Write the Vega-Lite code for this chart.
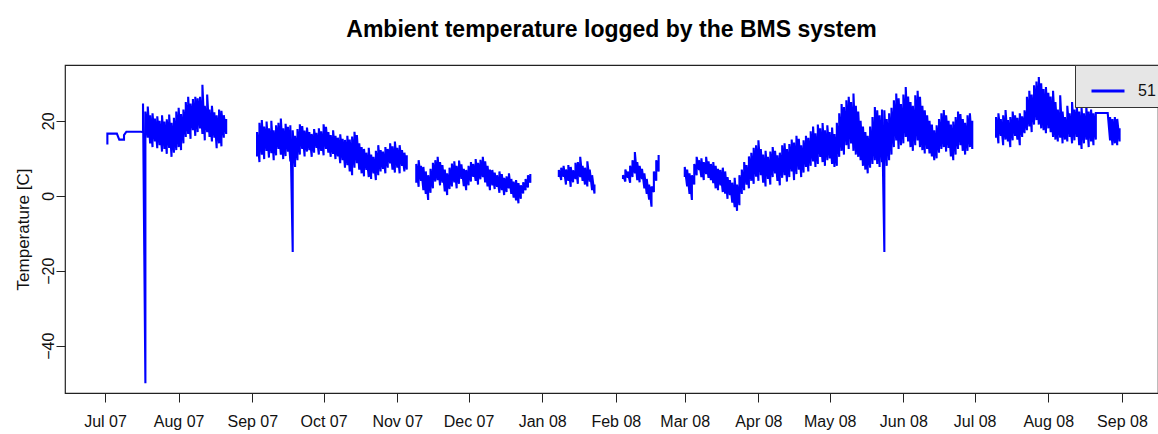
{
"$schema":"https://vega.github.io/schema/vega-lite/v6.json",
"width":1093,"height":328,
"autosize":{"type":"none"},
"padding":{"left":65,"top":65,"right":0,"bottom":41},
"background":"#ffffff",
"title":{"text":"Ambient temperature logged by the BMS system","font":"Liberation Sans","fontSize":23,"fontWeight":"bold","color":"#000000","anchor":"middle","offset":23},
"config":{"view":{"stroke":"#222222","strokeWidth":1.2},"font":"Liberation Sans"},
"data":{"values":[
{"d":"2007-07-02","lo":13.7,"hi":16.6},{"d":"2007-07-06","lo":16.6,"hi":16.6},{"d":"2007-07-07","lo":15.0,"hi":15.0},{"d":"2007-07-09","lo":15.0,"hi":16.2},{"d":"2007-07-10","lo":17.1,"hi":17.1},{"d":"2007-07-16","lo":17.1,"hi":17.1},
{"d":"2007-07-17","lo":17.0,"hi":24.6},{"d":"2007-07-18","lo":-50,"hi":22.5},{"d":"2007-07-19","lo":15.5,"hi":23.8},{"d":"2007-07-20","lo":14.0,"hi":21.5},{"d":"2007-07-21","lo":13.0,"hi":22.0},{"d":"2007-07-22","lo":14.5,"hi":20.6},{"d":"2007-07-23","lo":12.7,"hi":21.2},{"d":"2007-07-24","lo":13.5,"hi":20.0},{"d":"2007-07-25","lo":11.8,"hi":21.5},{"d":"2007-07-26","lo":12.5,"hi":19.8},{"d":"2007-07-27","lo":11.2,"hi":20.4},{"d":"2007-07-28","lo":12.8,"hi":21.7},{"d":"2007-07-29","lo":10.4,"hi":19.5},{"d":"2007-07-30","lo":11.5,"hi":20.8},{"d":"2007-07-31","lo":12.2,"hi":22.5},
{"d":"2007-08-01","lo":13.0,"hi":23.5},{"d":"2007-08-02","lo":12.2,"hi":21.8},{"d":"2007-08-03","lo":14.0,"hi":23.0},{"d":"2007-08-04","lo":15.7,"hi":25.0},{"d":"2007-08-05","lo":16.5,"hi":26.4},{"d":"2007-08-06","lo":15.2,"hi":24.6},{"d":"2007-08-07","lo":17.5,"hi":25.8},{"d":"2007-08-08","lo":16.0,"hi":26.4},{"d":"2007-08-09","lo":17.0,"hi":26.0},{"d":"2007-08-10","lo":18.0,"hi":26.4},{"d":"2007-08-11","lo":16.5,"hi":29.6},{"d":"2007-08-12","lo":14.8,"hi":24.0},{"d":"2007-08-13","lo":17.0,"hi":27.0},{"d":"2007-08-14","lo":15.7,"hi":23.0},{"d":"2007-08-15","lo":14.5,"hi":24.0},{"d":"2007-08-16","lo":15.5,"hi":22.3},{"d":"2007-08-17","lo":12.7,"hi":21.5},{"d":"2007-08-18","lo":14.0,"hi":23.0},{"d":"2007-08-19","lo":13.2,"hi":22.7},{"d":"2007-08-20","lo":15.5,"hi":21.5},{"d":"2007-08-21","lo":16.5,"hi":20.5},
{"d":"2007-08-27","lo":null,"hi":null},
{"d":"2007-09-03","lo":10.5,"hi":17.0},{"d":"2007-09-04","lo":9.0,"hi":19.5},{"d":"2007-09-05","lo":11.0,"hi":20.2},{"d":"2007-09-06","lo":9.8,"hi":18.5},{"d":"2007-09-07","lo":12.0,"hi":19.8},{"d":"2007-09-08","lo":10.2,"hi":18.0},{"d":"2007-09-09","lo":11.4,"hi":20.0},{"d":"2007-09-10","lo":9.5,"hi":17.5},{"d":"2007-09-11","lo":10.8,"hi":18.8},{"d":"2007-09-12","lo":12.5,"hi":19.5},{"d":"2007-09-13","lo":11.0,"hi":20.6},{"d":"2007-09-14","lo":9.8,"hi":18.0},{"d":"2007-09-15","lo":10.6,"hi":19.2},{"d":"2007-09-16","lo":11.8,"hi":18.4},{"d":"2007-09-17","lo":9.2,"hi":18.8},{"d":"2007-09-18","lo":-15,"hi":17.5},{"d":"2007-09-19","lo":7.7,"hi":16.0},{"d":"2007-09-20","lo":9.5,"hi":17.8},{"d":"2007-09-21","lo":11.0,"hi":19.1},{"d":"2007-09-22","lo":12.5,"hi":18.6},{"d":"2007-09-23","lo":10.5,"hi":17.4},{"d":"2007-09-24","lo":11.8,"hi":18.2},{"d":"2007-09-25","lo":12.2,"hi":17.0},{"d":"2007-09-26","lo":10.4,"hi":16.5},{"d":"2007-09-27","lo":11.5,"hi":17.8},{"d":"2007-09-28","lo":12.8,"hi":16.8},{"d":"2007-09-29","lo":11.0,"hi":18.0},{"d":"2007-09-30","lo":12.0,"hi":17.2},
{"d":"2007-10-01","lo":10.8,"hi":19.1},{"d":"2007-10-02","lo":12.5,"hi":18.4},{"d":"2007-10-03","lo":11.5,"hi":17.0},{"d":"2007-10-04","lo":10.4,"hi":16.2},{"d":"2007-10-05","lo":11.2,"hi":17.5},{"d":"2007-10-06","lo":9.8,"hi":16.0},{"d":"2007-10-07","lo":10.5,"hi":15.5},{"d":"2007-10-08","lo":8.7,"hi":16.4},{"d":"2007-10-09","lo":9.5,"hi":15.2},{"d":"2007-10-10","lo":7.5,"hi":14.9},{"d":"2007-10-11","lo":8.2,"hi":16.0},{"d":"2007-10-12","lo":6.5,"hi":15.0},{"d":"2007-10-13","lo":5.5,"hi":15.8},{"d":"2007-10-14","lo":7.5,"hi":17.1},{"d":"2007-10-15","lo":8.7,"hi":16.2},{"d":"2007-10-16","lo":7.0,"hi":14.0},{"d":"2007-10-17","lo":6.0,"hi":13.0},{"d":"2007-10-18","lo":5.2,"hi":12.5},{"d":"2007-10-19","lo":6.9,"hi":11.5},{"d":"2007-10-20","lo":5.0,"hi":12.8},{"d":"2007-10-21","lo":4.5,"hi":11.0},{"d":"2007-10-22","lo":6.0,"hi":10.4},{"d":"2007-10-23","lo":4.2,"hi":12.0},{"d":"2007-10-24","lo":5.5,"hi":13.5},{"d":"2007-10-25","lo":6.5,"hi":12.2},{"d":"2007-10-26","lo":7.2,"hi":11.8},{"d":"2007-10-27","lo":6.0,"hi":13.0},{"d":"2007-10-28","lo":7.5,"hi":12.5},{"d":"2007-10-29","lo":8.7,"hi":14.0},{"d":"2007-10-30","lo":7.0,"hi":13.2},{"d":"2007-10-31","lo":6.2,"hi":14.5},
{"d":"2007-11-01","lo":7.5,"hi":12.8},{"d":"2007-11-02","lo":6.0,"hi":13.5},{"d":"2007-11-03","lo":8.0,"hi":12.2},{"d":"2007-11-04","lo":6.5,"hi":11.5},{"d":"2007-11-05","lo":7.0,"hi":10.8},
{"d":"2007-11-07","lo":null,"hi":null},
{"d":"2007-11-09","lo":3.5,"hi":8.5},{"d":"2007-11-10","lo":2.4,"hi":9.5},{"d":"2007-11-11","lo":4.0,"hi":8.0},{"d":"2007-11-12","lo":1.5,"hi":7.7},{"d":"2007-11-13","lo":0.5,"hi":6.5},{"d":"2007-11-14","lo":-1.1,"hi":5.5},{"d":"2007-11-15","lo":0.8,"hi":7.2},{"d":"2007-11-16","lo":2.0,"hi":8.8},{"d":"2007-11-17","lo":3.8,"hi":9.5},{"d":"2007-11-18","lo":4.2,"hi":10.4},{"d":"2007-11-19","lo":2.8,"hi":9.0},{"d":"2007-11-20","lo":3.5,"hi":8.2},{"d":"2007-11-21","lo":1.2,"hi":7.0},{"d":"2007-11-22","lo":0.2,"hi":6.0},{"d":"2007-11-23","lo":1.8,"hi":7.5},{"d":"2007-11-24","lo":2.5,"hi":8.6},{"d":"2007-11-25","lo":3.6,"hi":9.2},{"d":"2007-11-26","lo":2.0,"hi":8.0},{"d":"2007-11-27","lo":3.2,"hi":9.4},{"d":"2007-11-28","lo":4.5,"hi":8.4},{"d":"2007-11-29","lo":2.6,"hi":7.2},{"d":"2007-11-30","lo":1.5,"hi":6.9},
{"d":"2007-12-01","lo":2.8,"hi":8.0},{"d":"2007-12-02","lo":3.8,"hi":9.0},{"d":"2007-12-03","lo":5.1,"hi":8.5},{"d":"2007-12-04","lo":4.0,"hi":9.8},{"d":"2007-12-05","lo":3.0,"hi":8.8},{"d":"2007-12-06","lo":4.4,"hi":9.6},{"d":"2007-12-07","lo":5.0,"hi":10.4},{"d":"2007-12-08","lo":3.6,"hi":9.2},{"d":"2007-12-09","lo":2.5,"hi":8.0},{"d":"2007-12-10","lo":1.5,"hi":7.0},{"d":"2007-12-11","lo":2.8,"hi":6.9},{"d":"2007-12-12","lo":1.8,"hi":6.2},{"d":"2007-12-13","lo":2.4,"hi":5.5},{"d":"2007-12-14","lo":0.8,"hi":6.5},{"d":"2007-12-15","lo":1.5,"hi":5.8},{"d":"2007-12-16","lo":0.2,"hi":4.8},{"d":"2007-12-17","lo":1.0,"hi":5.2},{"d":"2007-12-18","lo":2.0,"hi":6.0},{"d":"2007-12-19","lo":0.5,"hi":4.5},{"d":"2007-12-20","lo":-0.5,"hi":3.8},{"d":"2007-12-21","lo":-1.2,"hi":4.2},{"d":"2007-12-22","lo":-2.0,"hi":3.4},{"d":"2007-12-23","lo":-0.8,"hi":2.8},{"d":"2007-12-24","lo":0.6,"hi":3.6},{"d":"2007-12-25","lo":1.5,"hi":4.5},{"d":"2007-12-26","lo":2.2,"hi":5.5},{"d":"2007-12-27","lo":3.5,"hi":5.8},
{"d":"2008-01-01","lo":null,"hi":null},
{"d":"2008-01-08","lo":5.0,"hi":6.9},{"d":"2008-01-09","lo":4.2,"hi":7.5},{"d":"2008-01-10","lo":5.1,"hi":8.0},{"d":"2008-01-11","lo":3.0,"hi":7.0},{"d":"2008-01-12","lo":4.0,"hi":8.2},{"d":"2008-01-13","lo":2.4,"hi":7.7},{"d":"2008-01-14","lo":3.6,"hi":6.8},{"d":"2008-01-15","lo":4.5,"hi":8.8},{"d":"2008-01-16","lo":3.2,"hi":9.0},{"d":"2008-01-17","lo":5.0,"hi":10.4},{"d":"2008-01-18","lo":4.0,"hi":8.0},{"d":"2008-01-19","lo":3.0,"hi":7.5},{"d":"2008-01-20","lo":2.5,"hi":9.2},{"d":"2008-01-21","lo":3.8,"hi":7.0},{"d":"2008-01-22","lo":1.5,"hi":5.5},{"d":"2008-01-23","lo":0.6,"hi":3.0},
{"d":"2008-01-28","lo":null,"hi":null},
{"d":"2008-02-04","lo":4.5,"hi":5.5},{"d":"2008-02-05","lo":3.8,"hi":7.0},{"d":"2008-02-06","lo":4.8,"hi":6.5},{"d":"2008-02-07","lo":3.5,"hi":8.0},{"d":"2008-02-08","lo":5.0,"hi":9.5},{"d":"2008-02-09","lo":6.0,"hi":11.7},{"d":"2008-02-10","lo":4.2,"hi":9.0},{"d":"2008-02-11","lo":3.6,"hi":8.0},{"d":"2008-02-12","lo":4.5,"hi":7.2},{"d":"2008-02-13","lo":2.0,"hi":6.0},{"d":"2008-02-14","lo":0.5,"hi":4.5},{"d":"2008-02-15","lo":-1.0,"hi":3.0},{"d":"2008-02-16","lo":-2.9,"hi":2.5},{"d":"2008-02-17","lo":1.0,"hi":6.5},{"d":"2008-02-18","lo":4.0,"hi":9.5},{"d":"2008-02-19","lo":6.5,"hi":10.9},
{"d":"2008-02-25","lo":null,"hi":null},
{"d":"2008-03-01","lo":5.0,"hi":7.7},{"d":"2008-03-02","lo":2.5,"hi":7.0},{"d":"2008-03-03","lo":0.5,"hi":6.0},{"d":"2008-03-04","lo":-1.1,"hi":5.5},{"d":"2008-03-05","lo":3.0,"hi":8.5},{"d":"2008-03-06","lo":5.5,"hi":10.4},{"d":"2008-03-07","lo":6.9,"hi":9.5},{"d":"2008-03-08","lo":5.0,"hi":10.0},{"d":"2008-03-09","lo":4.2,"hi":9.0},{"d":"2008-03-10","lo":5.8,"hi":10.4},{"d":"2008-03-11","lo":4.8,"hi":9.2},{"d":"2008-03-12","lo":4.2,"hi":8.5},{"d":"2008-03-13","lo":3.4,"hi":9.0},{"d":"2008-03-14","lo":2.0,"hi":8.0},{"d":"2008-03-15","lo":1.5,"hi":7.2},{"d":"2008-03-16","lo":2.8,"hi":6.9},{"d":"2008-03-17","lo":1.0,"hi":7.5},{"d":"2008-03-18","lo":0.6,"hi":6.5},{"d":"2008-03-19","lo":-0.8,"hi":5.0},{"d":"2008-03-20","lo":0.2,"hi":4.2},{"d":"2008-03-21","lo":-1.8,"hi":3.5},{"d":"2008-03-22","lo":-3.0,"hi":4.8},{"d":"2008-03-23","lo":-4.0,"hi":3.0},{"d":"2008-03-24","lo":-2.5,"hi":5.5},{"d":"2008-03-25","lo":0.5,"hi":7.0},{"d":"2008-03-26","lo":1.5,"hi":9.0},{"d":"2008-03-27","lo":3.0,"hi":8.2},{"d":"2008-03-28","lo":2.0,"hi":10.5},{"d":"2008-03-29","lo":4.0,"hi":11.5},{"d":"2008-03-30","lo":3.2,"hi":12.8},{"d":"2008-03-31","lo":5.1,"hi":13.5},
{"d":"2008-04-01","lo":4.0,"hi":14.8},{"d":"2008-04-02","lo":5.5,"hi":12.5},{"d":"2008-04-03","lo":3.5,"hi":11.0},{"d":"2008-04-04","lo":2.5,"hi":12.0},{"d":"2008-04-05","lo":4.5,"hi":10.4},{"d":"2008-04-06","lo":3.0,"hi":11.8},{"d":"2008-04-07","lo":5.0,"hi":13.0},{"d":"2008-04-08","lo":6.0,"hi":12.0},{"d":"2008-04-09","lo":4.0,"hi":10.8},{"d":"2008-04-10","lo":2.8,"hi":11.5},{"d":"2008-04-11","lo":4.8,"hi":13.5},{"d":"2008-04-12","lo":5.5,"hi":14.0},{"d":"2008-04-13","lo":3.8,"hi":12.5},{"d":"2008-04-14","lo":5.0,"hi":13.8},{"d":"2008-04-15","lo":6.5,"hi":15.0},{"d":"2008-04-16","lo":4.2,"hi":14.2},{"d":"2008-04-17","lo":5.8,"hi":16.0},{"d":"2008-04-18","lo":7.0,"hi":15.2},{"d":"2008-04-19","lo":5.0,"hi":13.5},{"d":"2008-04-20","lo":6.2,"hi":14.8},{"d":"2008-04-21","lo":7.7,"hi":16.0},{"d":"2008-04-22","lo":6.5,"hi":15.5},{"d":"2008-04-23","lo":8.0,"hi":17.2},{"d":"2008-04-24","lo":9.2,"hi":18.5},{"d":"2008-04-25","lo":7.7,"hi":16.7},{"d":"2008-04-26","lo":8.5,"hi":19.0},{"d":"2008-04-27","lo":10.4,"hi":18.0},{"d":"2008-04-28","lo":9.0,"hi":19.4},{"d":"2008-04-29","lo":8.0,"hi":17.5},{"d":"2008-04-30","lo":9.5,"hi":18.8},
{"d":"2008-05-01","lo":10.0,"hi":17.0},{"d":"2008-05-02","lo":8.5,"hi":18.2},{"d":"2008-05-03","lo":7.7,"hi":16.5},{"d":"2008-05-04","lo":8.0,"hi":19.5},{"d":"2008-05-05","lo":10.4,"hi":22.0},{"d":"2008-05-06","lo":12.0,"hi":24.5},{"d":"2008-05-07","lo":11.0,"hi":23.7},{"d":"2008-05-08","lo":13.5,"hi":25.5},{"d":"2008-05-09","lo":12.5,"hi":26.4},{"d":"2008-05-10","lo":14.0,"hi":25.0},{"d":"2008-05-11","lo":12.0,"hi":27.3},{"d":"2008-05-12","lo":11.0,"hi":24.0},{"d":"2008-05-13","lo":10.4,"hi":22.5},{"d":"2008-05-14","lo":9.5,"hi":20.0},{"d":"2008-05-15","lo":8.0,"hi":18.5},{"d":"2008-05-16","lo":7.0,"hi":17.0},{"d":"2008-05-17","lo":6.0,"hi":16.0},{"d":"2008-05-18","lo":7.5,"hi":18.5},{"d":"2008-05-19","lo":8.5,"hi":21.0},{"d":"2008-05-20","lo":9.5,"hi":23.7},{"d":"2008-05-21","lo":8.5,"hi":22.8},{"d":"2008-05-22","lo":7.7,"hi":21.5},{"d":"2008-05-23","lo":9.0,"hi":23.0},{"d":"2008-05-24","lo":-15,"hi":22.8},{"d":"2008-05-25","lo":8.0,"hi":20.5},{"d":"2008-05-26","lo":9.5,"hi":22.0},{"d":"2008-05-27","lo":11.0,"hi":23.5},{"d":"2008-05-28","lo":13.0,"hi":25.5},{"d":"2008-05-29","lo":14.8,"hi":27.3},{"d":"2008-05-30","lo":12.5,"hi":26.0},{"d":"2008-05-31","lo":13.5,"hi":24.5},
{"d":"2008-06-01","lo":14.0,"hi":27.0},{"d":"2008-06-02","lo":15.7,"hi":29.0},{"d":"2008-06-03","lo":14.5,"hi":26.5},{"d":"2008-06-04","lo":13.0,"hi":25.0},{"d":"2008-06-05","lo":12.0,"hi":24.0},{"d":"2008-06-06","lo":13.5,"hi":26.8},{"d":"2008-06-07","lo":14.8,"hi":28.0},{"d":"2008-06-08","lo":13.0,"hi":26.4},{"d":"2008-06-09","lo":12.2,"hi":24.0},{"d":"2008-06-10","lo":11.3,"hi":22.8},{"d":"2008-06-11","lo":12.5,"hi":21.5},{"d":"2008-06-12","lo":11.3,"hi":20.0},{"d":"2008-06-13","lo":10.5,"hi":19.0},{"d":"2008-06-14","lo":9.5,"hi":17.5},{"d":"2008-06-15","lo":10.0,"hi":18.8},{"d":"2008-06-16","lo":11.5,"hi":20.5},{"d":"2008-06-17","lo":12.5,"hi":22.0},{"d":"2008-06-18","lo":13.0,"hi":22.9},{"d":"2008-06-19","lo":11.8,"hi":21.5},{"d":"2008-06-20","lo":12.8,"hi":20.0},{"d":"2008-06-21","lo":10.5,"hi":19.0},{"d":"2008-06-22","lo":9.5,"hi":19.8},{"d":"2008-06-23","lo":11.0,"hi":21.0},{"d":"2008-06-24","lo":12.5,"hi":22.5},{"d":"2008-06-25","lo":13.5,"hi":21.8},{"d":"2008-06-26","lo":12.0,"hi":20.5},{"d":"2008-06-27","lo":11.0,"hi":19.5},{"d":"2008-06-28","lo":12.0,"hi":21.5},{"d":"2008-06-29","lo":13.0,"hi":22.0},{"d":"2008-06-30","lo":12.5,"hi":20.0},
{"d":"2008-07-05","lo":null,"hi":null},
{"d":"2008-07-10","lo":15.5,"hi":21.0},{"d":"2008-07-11","lo":14.0,"hi":22.0},{"d":"2008-07-12","lo":16.0,"hi":20.5},{"d":"2008-07-13","lo":13.5,"hi":21.5},{"d":"2008-07-14","lo":15.0,"hi":22.9},{"d":"2008-07-15","lo":14.5,"hi":20.2},{"d":"2008-07-16","lo":13.0,"hi":21.0},{"d":"2008-07-17","lo":14.8,"hi":22.5},{"d":"2008-07-18","lo":16.0,"hi":21.5},{"d":"2008-07-19","lo":15.0,"hi":20.8},{"d":"2008-07-20","lo":13.5,"hi":22.0},{"d":"2008-07-21","lo":15.7,"hi":21.2},{"d":"2008-07-22","lo":16.7,"hi":22.8},{"d":"2008-07-23","lo":17.5,"hi":26.4},{"d":"2008-07-24","lo":18.5,"hi":28.0},{"d":"2008-07-25","lo":17.0,"hi":27.0},{"d":"2008-07-26","lo":19.0,"hi":29.5},{"d":"2008-07-27","lo":20.2,"hi":30.5},{"d":"2008-07-28","lo":19.0,"hi":31.7},{"d":"2008-07-29","lo":18.0,"hi":30.0},{"d":"2008-07-30","lo":17.5,"hi":28.5},{"d":"2008-07-31","lo":16.7,"hi":29.0},
{"d":"2008-08-01","lo":18.0,"hi":27.5},{"d":"2008-08-02","lo":17.0,"hi":26.5},{"d":"2008-08-03","lo":15.7,"hi":28.0},{"d":"2008-08-04","lo":15.0,"hi":25.0},{"d":"2008-08-05","lo":14.5,"hi":23.0},{"d":"2008-08-06","lo":15.5,"hi":26.8},{"d":"2008-08-07","lo":14.0,"hi":22.5},{"d":"2008-08-08","lo":15.0,"hi":21.0},{"d":"2008-08-09","lo":14.5,"hi":24.0},{"d":"2008-08-10","lo":15.7,"hi":22.0},{"d":"2008-08-11","lo":14.0,"hi":25.0},{"d":"2008-08-12","lo":14.8,"hi":23.0},{"d":"2008-08-13","lo":15.7,"hi":24.0},{"d":"2008-08-14","lo":13.5,"hi":22.5},{"d":"2008-08-15","lo":12.5,"hi":23.5},{"d":"2008-08-16","lo":14.0,"hi":22.0},{"d":"2008-08-17","lo":15.0,"hi":24.0},{"d":"2008-08-18","lo":13.0,"hi":22.5},{"d":"2008-08-19","lo":14.5,"hi":23.0},{"d":"2008-08-20","lo":13.5,"hi":22.0},{"d":"2008-08-21","lo":15.0,"hi":22.1},{"d":"2008-08-26","lo":22.1,"hi":22.1},{"d":"2008-08-27","lo":14.8,"hi":21.0},{"d":"2008-08-28","lo":13.5,"hi":20.5},{"d":"2008-08-29","lo":14.0,"hi":21.0},{"d":"2008-08-30","lo":13.5,"hi":20.5},{"d":"2008-08-31","lo":14.5,"hi":18.0}
]},
"transform":[{"fold":["lo","hi"],"as":["k","v"]}],
"mark":{"type":"line","strokeWidth":2.1,"invalid":"break-paths-show-domains","clip":true},
"encoding":{
"x":{"field":"d","type":"temporal",
 "scale":{"type":"utc","domain":[{"year":2007,"month":6,"date":14,"hours":4,"utc":true},{"year":2008,"month":9,"date":16,"hours":4,"utc":true}]},
 "axis":{"title":null,"labelExpr":"utcFormat(datum.value, '%b %y')","grid":false,"domain":false,"tickSize":9,"tickColor":"#222222","labelFontSize":16,"labelColor":"#111111","labelPadding":11,"labelFlush":false,"labelOverlap":false,
  "values":[{"year":2007,"month":7,"date":1,"utc":true},{"year":2007,"month":8,"date":1,"utc":true},{"year":2007,"month":9,"date":1,"utc":true},{"year":2007,"month":10,"date":1,"utc":true},{"year":2007,"month":11,"date":1,"utc":true},{"year":2007,"month":12,"date":1,"utc":true},{"year":2008,"month":1,"date":1,"utc":true},{"year":2008,"month":2,"date":1,"utc":true},{"year":2008,"month":3,"date":1,"utc":true},{"year":2008,"month":4,"date":1,"utc":true},{"year":2008,"month":5,"date":1,"utc":true},{"year":2008,"month":6,"date":1,"utc":true},{"year":2008,"month":7,"date":1,"utc":true},{"year":2008,"month":8,"date":1,"utc":true},{"year":2008,"month":9,"date":1,"utc":true}]}},
"y":{"field":"v","type":"quantitative",
 "scale":{"domain":[-52.6,34.9],"nice":false,"zero":false},
 "axis":{"title":"Temperature [C]","values":[-40,-20,0,20],"grid":false,"domain":false,"tickSize":9,"tickColor":"#222222","labelAngle":-90,"labelAlign":"center","labelBaseline":"bottom","labelFontSize":16,"labelColor":"#111111","labelPadding":0,"titleFontSize":17,"titleFontWeight":"normal","titleColor":"#111111","titlePadding":8}},
"color":{"datum":"51","type":"nominal","scale":{"range":["#0000ff"]},
 "legend":{"title":null,"orient":"none","legendX":1010,"legendY":0,"fillColor":"#e6e6e6","strokeColor":"#333333","padding":8,"symbolOffset":7,"symbolType":"stroke","symbolSize":1089,"symbolStrokeWidth":3,"symbolStrokeColor":"#0000cc","labelFontSize":16,"labelColor":"#111111","labelOffset":12}}
}
}
